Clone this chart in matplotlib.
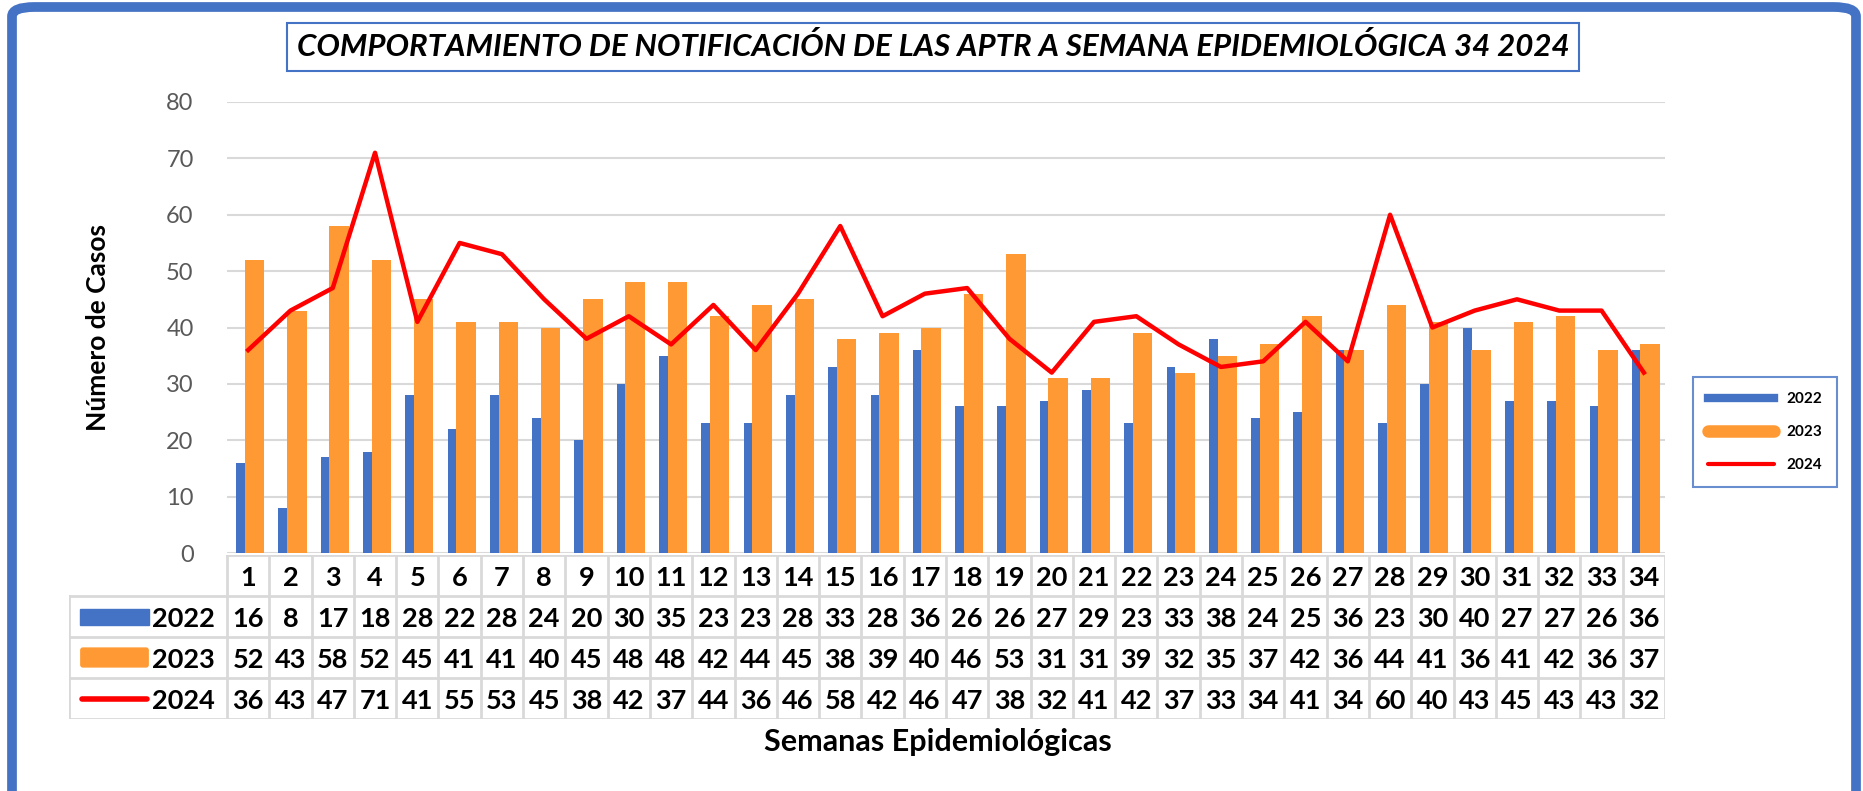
import matplotlib.pyplot as plt
import numpy as np
from matplotlib.patches import FancyBboxPatch, Rectangle
from matplotlib.lines import Line2D

plt.rcParams['font.family'] = ['Lato', 'DejaVu Sans']

semanas = list(range(1, 35))
casos_2022 = [16, 8, 17, 18, 28, 22, 28, 24, 20, 30, 35, 23, 23, 28, 33, 28, 36,
              26, 26, 27, 29, 23, 33, 38, 24, 25, 36, 23, 30, 40, 27, 27, 26, 36]
casos_2023 = [52, 43, 58, 52, 45, 41, 41, 40, 45, 48, 48, 42, 44, 45, 38, 39, 40,
              46, 53, 31, 31, 39, 32, 35, 37, 42, 36, 44, 41, 36, 41, 42, 36, 37]
casos_2024 = [36, 43, 47, 71, 41, 55, 53, 45, 38, 42, 37, 44, 36, 46, 58, 42, 46,
              47, 38, 32, 41, 42, 37, 33, 34, 41, 34, 60, 40, 43, 45, 43, 43, 32]
anios = ['2022', '2023', '2024']

AZUL = '#4472C4'
NARANJA = '#FF9933'
ROJO = '#FF0000'
GRIS = '#D9D9D9'

W, H = 1863, 791
fig = plt.figure(figsize=(W / 100, H / 100), dpi=100)


def px(x0, y0, x1, y1):
    # caja en pixeles -> fracciones de figura
    return [x0 / W, 1 - y1 / H, (x1 - x0) / W, (y1 - y0) / H]


# marco azul exterior
fig.patches.append(FancyBboxPatch((12 / W, -0.05), (1844 / W), 1 - 7 / H + 0.05,
                                  boxstyle='round,pad=0,rounding_size=0.012',
                                  transform=fig.transFigure, fill=False,
                                  edgecolor=AZUL, linewidth=7, zorder=0))

ax = fig.add_axes(px(227, 102, 1665, 553))
x = np.array(semanas)
ax.bar(x - 0.18, casos_2022, width=0.21, color=AZUL, zorder=2)
ax.bar(x + 0.15, casos_2023, width=0.46, color=NARANJA, zorder=2)
ax.plot(x, casos_2024, color=ROJO, linewidth=3.2, zorder=3)
ax.set_xlim(0.5, 34.5)
ax.set_ylim(0, 80)
ax.set_yticks(range(0, 81, 10))
ax.set_xticks([])
ax.tick_params(axis='y', length=0, pad=24, labelsize=17, labelcolor='#595959')
ax.grid(axis='y', color=GRIS, linewidth=1.5, zorder=0)
for s in ax.spines.values():
    s.set_visible(False)
ax.set_ylabel('Número de Casos', fontsize=19, fontweight='bold', labelpad=40)

# titulo
fig.text(933 / W, 1 - 47 / H,
         'COMPORTAMIENTO DE NOTIFICACIÓN DE LAS APTR A SEMANA EPIDEMIOLÓGICA 34 2024',
         ha='center', va='center', fontsize=22.5, fontweight='bold', fontstyle='italic',
         bbox=dict(boxstyle='square,pad=0.3', facecolor='white', edgecolor=AZUL, linewidth=1.5))

# tabla de datos
cw = (1665 - 227) / 34
x_izq = 0.5 - (227 - 69) / cw
tb = fig.add_axes(px(69, 555, 1665, 719))
tb.set_xlim(x_izq, 34.5)
tb.set_ylim(4, 0)
tb.axis('off')
tb.plot([0.5, 34.5], [0, 0], color=GRIS, linewidth=2)
for r in range(1, 5):
    tb.plot([x_izq, 34.5], [r, r], color=GRIS, linewidth=2)
for k in range(35):
    tb.plot([0.5 + k, 0.5 + k], [0, 4], color=GRIS, linewidth=2)
tb.plot([x_izq, x_izq], [1, 4], color=GRIS, linewidth=2)

fs_tabla = 19.5
for i, s in enumerate(semanas):
    tb.text(s, 0.55, str(s), ha='center', va='center', fontsize=fs_tabla, fontweight='bold')
for r, serie in enumerate([casos_2022, casos_2023, casos_2024], start=1):
    for s, v in zip(semanas, serie):
        tb.text(s, r + 0.55, str(v), ha='center', va='center', fontsize=fs_tabla, fontweight='bold')
    tb.text(x_izq + (152 - 69) / cw, r + 0.55, anios[r - 1], ha='left', va='center',
            fontsize=fs_tabla, fontweight='bold')

gx0 = x_izq + (80 - 69) / cw
gx1 = x_izq + (149 - 69) / cw
tb.add_patch(Rectangle((gx0, 1.32), gx1 - gx0, 0.38, color=AZUL))
tb.add_patch(FancyBboxPatch((gx0 + 0.02, 2.27), gx1 - gx0 - 0.04, 0.46,
                            boxstyle='round,pad=0,rounding_size=0.05', color=NARANJA))
tb.plot([gx0 + 0.05, gx1 - 0.05], [3.52, 3.52], color=ROJO, linewidth=4, solid_capstyle='round')

fig.text(938 / W, 1 - 742 / H, 'Semanas Epidemiológicas', ha='center', va='center',
         fontsize=22, fontweight='bold')

# leyenda
handles = [Line2D([0], [0], color=AZUL, linewidth=6),
           Line2D([0], [0], color=NARANJA, linewidth=9, solid_capstyle='round'),
           Line2D([0], [0], color=ROJO, linewidth=3, solid_capstyle='round')]
leg = fig.legend(handles, anios, loc='center', bbox_to_anchor=(1765 / W, 1 - 432 / H),
                 frameon=True, fancybox=False, edgecolor=AZUL,
                 handlelength=4.3, labelspacing=1.25, borderpad=1.0,
                 prop={'weight': 'bold', 'size': 11})
leg.get_frame().set_linewidth(1.5)

fig.savefig('out.png', dpi=100, facecolor='white')
